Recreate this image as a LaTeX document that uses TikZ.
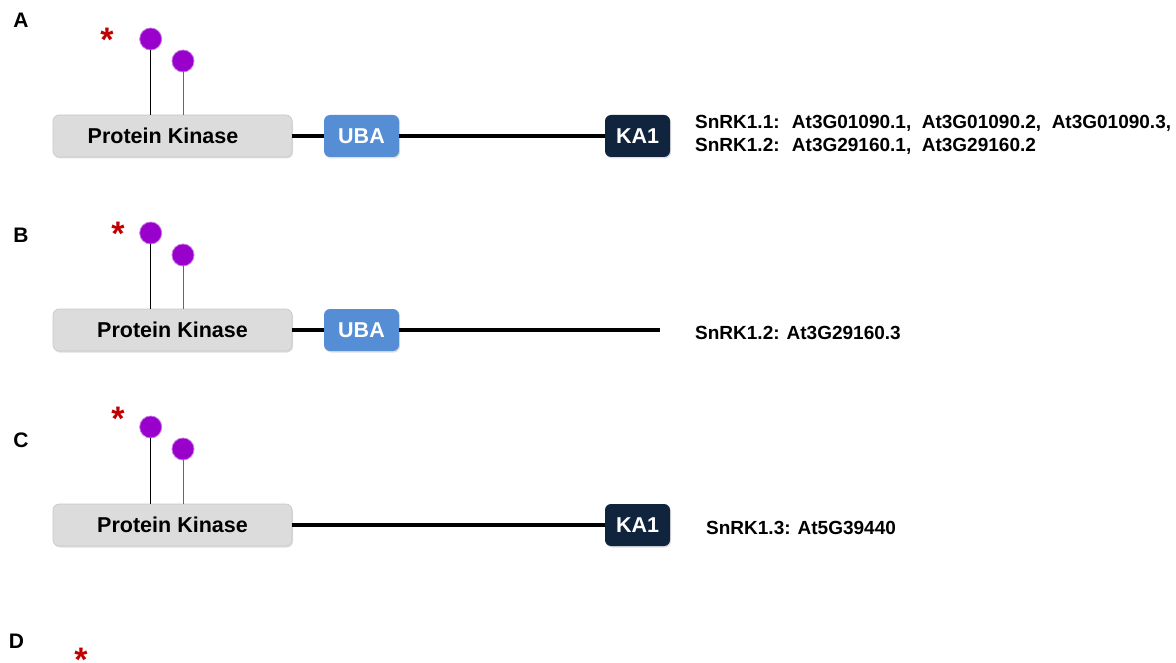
\documentclass[tikz,border=0pt]{standalone}
\usepackage{fontspec}
\setmainfont{Liberation Sans}
\usetikzlibrary{shadows}
\definecolor{pkgray}{HTML}{DCDCDC}
\definecolor{pkedge}{HTML}{C8C8C8}
\definecolor{ubablue}{HTML}{558ED5}
\definecolor{kanavy}{HTML}{10243E}
\definecolor{phpurple}{HTML}{9900CC}
\definecolor{astred}{HTML}{C00000}
\tikzset{
  dom/.style={rounded corners=6pt, inner sep=0pt, minimum height=42pt,
    font=\fontsize{21.5}{25}\selectfont\bfseries,
    drop shadow={opacity=0.25, shadow xshift=1pt, shadow yshift=-1.5pt}},
  pkbox/.style={dom, fill=pkgray, draw=pkedge, line width=0.6pt, minimum width=239pt, text=black},
  ubabox/.style={dom, fill=ubablue, minimum width=75pt, text=white},
  kabox/.style={dom, fill=kanavy, minimum width=65pt, text=white},
  linker/.style={line width=3.6pt, black},
  stick1/.style={line width=0.9pt, black},
  stick2/.style={line width=0.9pt, black!60},
  phos/.style={circle, fill=phpurple, draw=phpurple!55, line width=0.8pt, minimum size=22pt, inner sep=0pt},
  ast/.style={text=astred, font=\fontsize{34}{34}\selectfont\bfseries, inner sep=0pt},
  panel/.style={font=\fontsize{21}{25}\selectfont\bfseries, inner sep=0pt},
  iso/.style={font=\fontsize{19}{23}\selectfont\bfseries, anchor=west, align=left, inner sep=0pt}
}
\begin{document}
\begin{tikzpicture}[x=1pt,y=1pt]
\useasboundingbox (0,0) rectangle (1176,-663);
% ---------- Panel A
\node[panel] (labA) at (21,-20) {A};
\node[pkbox] (pkA) at (172.5,-136) {Protein Kinase\hspace*{19pt}};
\node[ubabox] (ubaA) at (361.5,-136) {UBA};
\node[kabox] (kaA) at (637.5,-136) {KA1};
\draw[linker] (pkA.east) -- (ubaA.west);
\draw[linker] (ubaA.east) -- (kaA.west);
\node[phos] (p1A) at (150.7,-39) {};
\node[phos] (p2A) at (183,-61) {};
\draw[stick1] (p1A.south) -- (p1A.south |- pkA.north);
\draw[stick2] (p2A.south) -- (p2A.south |- pkA.north);
\node[ast] (astA) at (107,-40) {*};
\node[iso] (isoA) at (695,-135) {SnRK1.1: \ At3G01090.1, \ At3G01090.2, \ At3G01090.3,\\SnRK1.2: \ At3G29160.1, \ At3G29160.2};
% ---------- Panel B
\node[panel] (labB) at (21,-235) {B};
\node[pkbox] (pkB) at (172.5,-330) {Protein Kinase};
\node[ubabox] (ubaB) at (361.5,-330) {UBA};
\coordinate (endB) at (660,-330);
\draw[linker] (pkB.east) -- (ubaB.west);
\draw[linker] (ubaB.east) -- (endB);
\node[phos] (p1B) at (150.7,-233) {};
\node[phos] (p2B) at (183,-255) {};
\draw[stick1] (p1B.south) -- (p1B.south |- pkB.north);
\draw[stick2] (p2B.south) -- (p2B.south |- pkB.north);
\node[ast] (astB) at (118,-234) {*};
\node[iso] (isoB) at (695,-333) {SnRK1.2: At3G29160.3};
% ---------- Panel C
\node[panel] (labC) at (21,-440) {C};
\node[pkbox] (pkC) at (172.5,-525) {Protein Kinase};
\node[kabox] (kaC) at (637.5,-525) {KA1};
\draw[linker] (pkC.east) -- (kaC.west);
\node[phos] (p1C) at (150.7,-427) {};
\node[phos] (p2C) at (183,-449) {};
\draw[stick1] (p1C.south) -- (p1C.south |- pkC.north);
\draw[stick2] (p2C.south) -- (p2C.south |- pkC.north);
\node[ast] (astC) at (118,-419) {*};
\node[iso] (isoC) at (706,-528) {SnRK1.3: At5G39440};
% ---------- Panel D
\node[panel] (labD) at (16.5,-641) {D};
\node[ast] (astD) at (81,-659.5) {*};
\end{tikzpicture}
\end{document}
